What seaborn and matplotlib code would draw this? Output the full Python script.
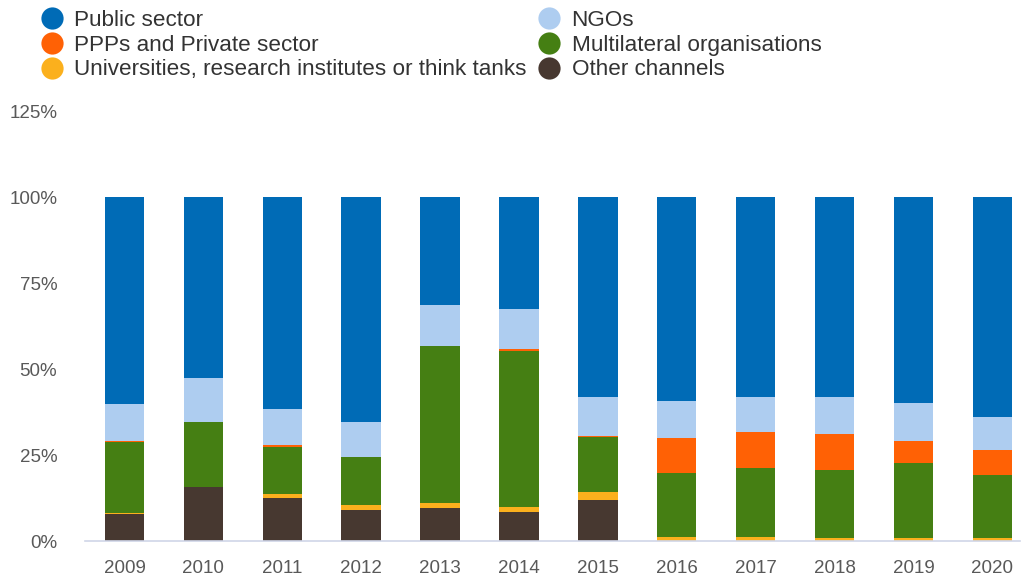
import matplotlib
matplotlib.use("Agg")
import matplotlib.pyplot as plt
from matplotlib.lines import Line2D
import seaborn as sns
import numpy as np
import pandas as pd

years = ["2009", "2010", "2011", "2012", "2013", "2014",
         "2015", "2016", "2017", "2018", "2019", "2020"]

# shares in percent (bottom of stack first)
other_channels = [7.9, 15.6, 12.6, 9.0, 9.5, 8.4, 12.0, 0.0, 0.0, 0.0, 0.0, 0.0]
universities = [0.1, 0.0, 1.0, 1.5, 1.5, 1.6, 2.2, 1.2, 1.2, 0.8, 0.8, 0.8]
multilateral = [20.8, 19.0, 13.8, 13.8, 45.7, 45.2, 15.9, 18.6, 20.1, 19.9, 22.0, 18.4]
ppps_private = [0.4, 0.0, 0.6, 0.0, 0.0, 0.6, 0.5, 10.2, 10.3, 10.3, 6.2, 7.3]
ngos = [10.6, 12.9, 10.3, 10.3, 11.8, 11.6, 11.2, 10.8, 10.2, 10.8, 11.2, 9.6]
public_sector = [60.3, 52.5, 61.7, 65.4, 31.5, 32.6, 58.2, 59.2, 58.2, 58.2, 59.8, 63.9]

df = pd.DataFrame({
    "year": years,
    "Other channels": other_channels,
    "Universities, research institutes or think tanks": universities,
    "Multilateral organisations": multilateral,
    "PPPs and Private sector": ppps_private,
    "NGOs": ngos,
    "Public sector": public_sector,
})

colors = {
    "Public sector": "#006BB6",
    "NGOs": "#AECDF0",
    "PPPs and Private sector": "#FF6105",
    "Multilateral organisations": "#457F13",
    "Universities, research institutes or think tanks": "#FBB01D",
    "Other channels": "#473830",
}

stack_order = ["Other channels", "Universities, research institutes or think tanks",
               "Multilateral organisations", "PPPs and Private sector", "NGOs", "Public sector"]

sns.set_style("white")
plt.rcParams["font.family"] = ["Liberation Sans", "DejaVu Sans"]

fig = plt.figure(figsize=(10.22, 5.8), dpi=100)
ax = fig.add_axes([85 / 1022, 39 / 580, 935 / 1022, 430 / 580])

# stacked bars: draw cumulative totals from the top layer down
cum = df[stack_order].cumsum(axis=1)
for name in reversed(stack_order):
    sns.barplot(x=df["year"], y=cum[name], color=colors[name], width=0.5,
                linewidth=0, saturation=1, ax=ax)

ax.set_xlim(-0.5, 11.35)
ax.set_ylim(0, 125)
ax.set_yticks([0, 25, 50, 75, 100, 125])
ax.set_yticklabels([f"{t}%" for t in [0, 25, 50, 75, 100, 125]])
ax.set_xlabel("")
ax.set_ylabel("")
ax.tick_params(axis="both", length=0, labelsize=13.5, labelcolor="#595959")
ax.tick_params(axis="y", pad=20)
ax.tick_params(axis="x", pad=14)
for s in ["top", "right", "left"]:
    ax.spines[s].set_visible(False)
ax.spines["bottom"].set_color("#D0D6E8")
ax.spines["bottom"].set_linewidth(1.2)

legend_order = ["Public sector", "PPPs and Private sector",
                "Universities, research institutes or think tanks",
                "NGOs", "Multilateral organisations", "Other channels"]
handles = [Line2D([0], [0], marker="o", linestyle="", markersize=16,
                  markerfacecolor=colors[n], markeredgewidth=0) for n in legend_order]
fig.legend(handles, legend_order, ncol=2, loc="upper left",
           bbox_to_anchor=(38 / 1022, 1 - 8 / 580), frameon=False, fontsize=16.2,
           labelcolor="#333333", handlelength=1.0, handletextpad=0.5,
           columnspacing=0.5, labelspacing=0.16, borderaxespad=0, borderpad=0.1)

fig.savefig("out.png", dpi=100)
